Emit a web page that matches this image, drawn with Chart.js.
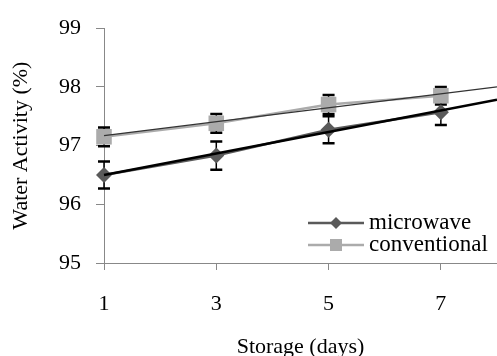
<!DOCTYPE html>
<html>
<head>
<meta charset="utf-8">
<script src="https://cdn.jsdelivr.net/npm/chart.js@4/dist/chart.umd.min.js"></script>
<style>
  html, body { margin: 0; padding: 0; background: #fff; }
</style>
</head>
<body>
<canvas id="chart" width="497" height="356"></canvas>
<script>
// ===== Data =====
const days = [1, 3, 5, 7];
const xTicks = [1, 3, 5, 7];
const microwave = [96.5, 96.83, 97.27, 97.57];
const microwaveErr = [0.23, 0.24, 0.23, 0.22];
const conventional = [97.15, 97.38, 97.7, 97.85];
const conventionalErr = [0.16, 0.16, 0.16, 0.15];
// trend lines, end points
const trendDays = [1, 8];
const microwaveTrend = [96.5, 97.78];
const conventionalTrend = [97.17, 98.0];

const pts = (xs, ys) => xs.map((x, i) => ({ x: x, y: ys[i] }));

Chart.defaults.font.family = "'Liberation Serif', 'Times New Roman', serif";
Chart.defaults.color = "#000";

// ===== Error bars =====
const errorBars = {
  id: "errorBars",
  beforeDatasetsDraw(chart) {
    const { ctx, scales: { x, y } } = chart;
    ctx.save();
    ctx.strokeStyle = "#000";
    chart.data.datasets.forEach(ds => {
      if (!ds.err) return;
      ds.data.forEach((p, i) => {
        const px = x.getPixelForValue(p.x);
        const top = y.getPixelForValue(p.y + ds.err[i]);
        const bot = y.getPixelForValue(p.y - ds.err[i]);
        ctx.lineWidth = 1.5;
        ctx.beginPath();
        ctx.moveTo(px, top); ctx.lineTo(px, bot);
        ctx.stroke();
        ctx.lineWidth = 2.5;
        ctx.beginPath();
        ctx.moveTo(px - 6, top); ctx.lineTo(px + 6, top);
        ctx.moveTo(px - 6, bot); ctx.lineTo(px + 6, bot);
        ctx.stroke();
      });
    });
    ctx.restore();
  }
};

// ===== Legend inside the plot =====
const innerLegend = {
  id: "innerLegend",
  afterDraw(chart) {
    const { ctx } = chart;
    const rows = chart.data.datasets.filter(ds => ds.err);
    ctx.save();
    rows.forEach((ds, i) => {
      const y = 223 + i * 22;
      ctx.strokeStyle = ds.borderColor;
      ctx.lineWidth = 2.5;
      ctx.beginPath();
      ctx.moveTo(308, y); ctx.lineTo(364, y);
      ctx.stroke();
      ctx.fillStyle = ds.pointBackgroundColor;
      if (ds.pointStyle === "rectRot") {
        ctx.beginPath();
        ctx.moveTo(336, y - 6); ctx.lineTo(342, y); ctx.lineTo(336, y + 6); ctx.lineTo(330, y);
        ctx.closePath();
        ctx.fill();
      } else {
        ctx.fillRect(330, y - 6, 12, 12);
      }
      ctx.fillStyle = "#000";
      ctx.font = "23px 'Liberation Serif', serif";
      ctx.textBaseline = "middle";
      ctx.fillText(ds.label, 369, y);
    });
    ctx.restore();
  }
};

// ===== Chart =====
const ctx = document.getElementById("chart").getContext("2d");
new Chart(ctx, {
  type: "scatter",
  data: {
    datasets: [
      {
        label: "microwave trend",
        data: pts(trendDays, microwaveTrend),
        showLine: true,
        borderColor: "#000",
        borderWidth: 2.5,
        pointRadius: 0,
        order: 0,
        clip: false
      },
      {
        label: "conventional trend",
        data: pts(trendDays, conventionalTrend),
        showLine: true,
        borderColor: "#333",
        borderWidth: 1.3,
        pointRadius: 0,
        order: 0,
        clip: false
      },
      {
        label: "microwave",
        data: pts(days, microwave),
        err: microwaveErr,
        showLine: true,
        borderColor: "#5a5a5a",
        borderWidth: 2.5,
        pointStyle: "rectRot",
        pointRadius: 8,
        pointBackgroundColor: "#5a5a5a",
        pointBorderWidth: 0,
        order: 1,
        clip: false
      },
      {
        label: "conventional",
        data: pts(days, conventional),
        err: conventionalErr,
        showLine: true,
        borderColor: "#ababab",
        borderWidth: 2.5,
        pointStyle: "rect",
        pointRadius: 11,
        pointBackgroundColor: "#ababab",
        pointBorderWidth: 0,
        order: 2,
        clip: false
      }
    ]
  },
  options: {
    responsive: false,
    animation: false,
    layout: { autoPadding: false, padding: { top: 23, right: 0, left: 0, bottom: 0 } },
    plugins: {
      legend: { display: false },
      tooltip: { enabled: false }
    },
    scales: {
      x: {
        type: "linear",
        min: 1,
        max: 8,
        afterBuildTicks: s => { s.ticks = xTicks.map(v => ({ value: v })); },
        afterFit: s => { s.height = 93; },
        grid: { drawOnChartArea: false, tickLength: 7, color: "#888" },
        border: { color: "#888" },
        ticks: { padding: 21, font: { size: 22 } },
        title: {
          display: true,
          text: "Storage (days)",
          font: { size: 22, lineHeight: 1 },
          padding: { top: 0, bottom: -2 }
        }
      },
      y: {
        min: 95,
        max: 99,
        ticks: { stepSize: 1, padding: 15, font: { size: 22 } },
        afterFit: s => { s.width = 104; },
        grid: { drawOnChartArea: false, tickLength: 8, color: "#888" },
        border: { color: "#888" },
        title: {
          display: true,
          text: "Water Activity (%)",
          font: { size: 22, lineHeight: 1.2 },
          padding: { top: 8, bottom: 0 }
        }
      }
    }
  },
  plugins: [errorBars, innerLegend]
});
</script>
</body>
</html>
